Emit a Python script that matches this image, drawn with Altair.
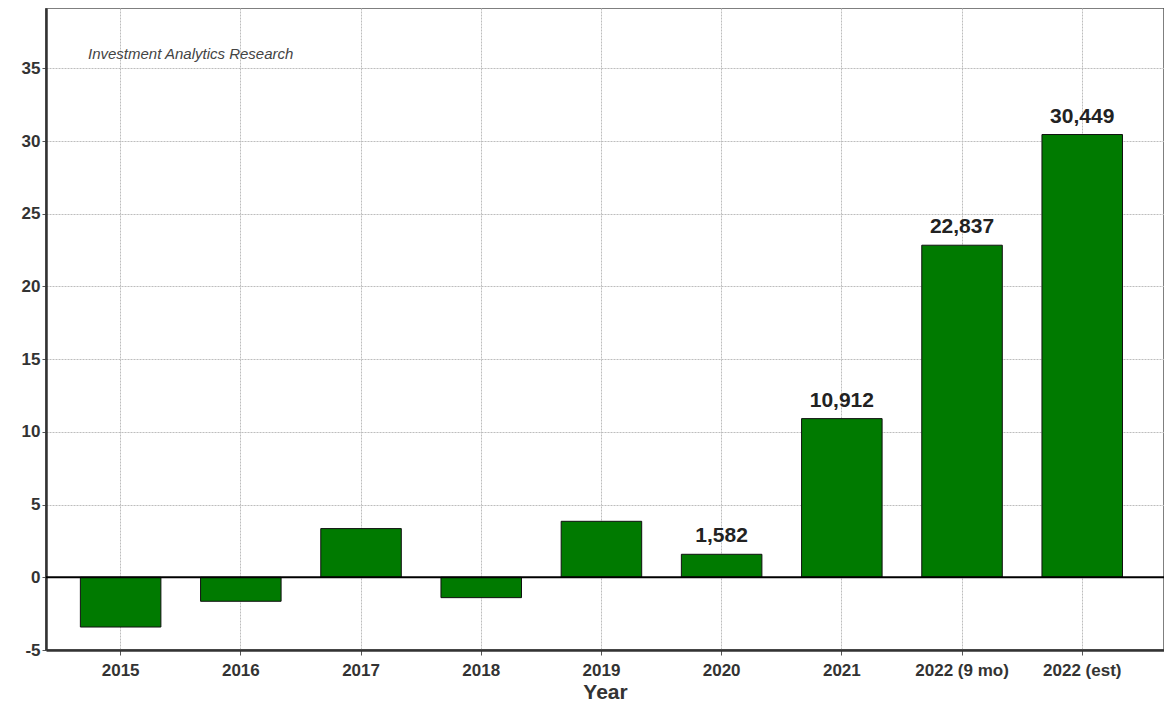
import altair as alt
import pandas as pd

categories = ["2015", "2016", "2017", "2018", "2019", "2020", "2021", "2022 (9 mo)", "2022 (est)"]
values = [-3.42, -1.65, 3.35, -1.40, 3.85, 1.582, 10.912, 22.837, 30.449]
labels = ["", "", "", "", "", "1,582", "10,912", "22,837", "30,449"]
y_ticks = [-5, 0, 5, 10, 15, 20, 25, 30, 35]
note = "Investment Analytics Research"

df = pd.DataFrame({"Year": categories, "value": values, "label": labels})

FONT = "Liberation Sans"
GRID = "#bdbdbd"

x = alt.X(
    "Year:N",
    sort=categories,
    title="Year",
    scale=alt.Scale(paddingInner=0.33, paddingOuter=0.3156, align=0.453),
    axis=alt.Axis(
        labelAngle=0,
        labelFont=FONT,
        labelFontSize=17,
        labelFontWeight="bold",
        labelColor="#333333",
        labelPadding=7,
        tickSize=5,
        tickColor="#555555",
        bandPosition=0.5,
        domain=True,
        domainColor="#333333",
        domainWidth=2.5,
        grid=True,
        gridColor=GRID,
        gridDash=[2, 1],
        gridWidth=1,
        titleFont=FONT,
        titleFontSize=21,
        titleFontWeight="bold",
        titleColor="#333333",
        titlePadding=3,
    ),
)

y = alt.Y(
    "value:Q",
    title=None,
    scale=alt.Scale(domain=[-5, 39.15], nice=False, zero=False),
    axis=alt.Axis(
        values=y_ticks,
        labelExpr="'' + datum.value",
        labelFont=FONT,
        labelFontSize=17,
        labelFontWeight="bold",
        labelColor="#333333",
        labelPadding=2,
        tickSize=4,
        tickColor="#555555",
        domain=True,
        domainColor="#333333",
        domainWidth=2.5,
        grid=True,
        gridColor=GRID,
        gridDash=[2, 1],
        gridWidth=1,
    ),
)

base = alt.Chart(df)

bars = base.mark_bar(color="#007a00", stroke="#111111", strokeWidth=1).encode(x=x, y=y, y2=alt.datum(0))

zero = alt.Chart(pd.DataFrame({"z": [0]})).mark_rule(color="#000000", strokeWidth=2).encode(y="z:Q")

text = base.mark_text(
    font=FONT, fontSize=21, fontWeight="bold", color="#222222", baseline="bottom", dy=-8
).encode(x=x, y=y, text="label:N")

annot = alt.Chart(pd.DataFrame({"t": [note]})).mark_text(
    font=FONT, fontSize=15, fontStyle="italic", color="#444444", align="left", baseline="middle"
).encode(x=alt.value(42), y=alt.value(46), text="t:N")

chart = (
    alt.layer(bars, zero, text, annot)
    .properties(
        width=1118,
        height=642,
        autosize=alt.AutoSizeParams(type="none"),
        padding={"left": 38, "top": 0, "right": 0, "bottom": 52},
        background="white",
    )
    .configure_view(stroke="#555555", strokeWidth=1.5)
)

chart.save("out.html", embed_options={"renderer": "svg", "actions": False})
